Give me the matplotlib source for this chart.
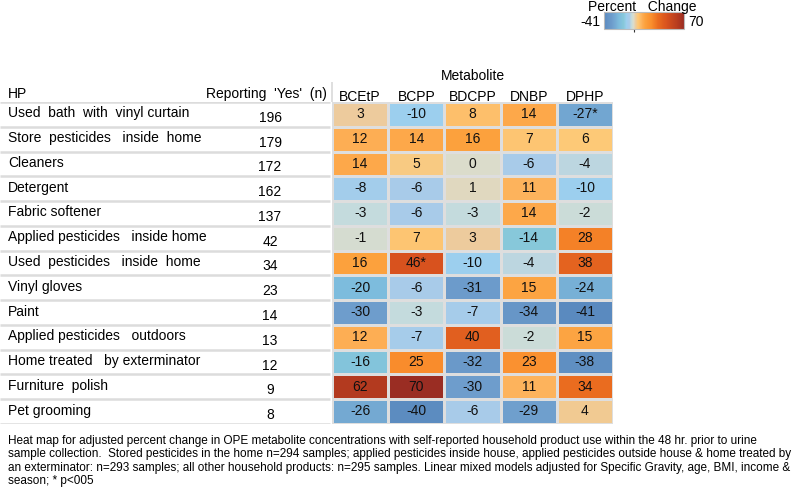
import matplotlib
matplotlib.use("Agg")
import matplotlib.pyplot as plt
import numpy as np
from matplotlib.colors import LinearSegmentedColormap, Normalize

plt.rcParams['font.family'] = ['Liberation Sans', 'DejaVu Sans']

products = ["Used  bath  with  vinyl curtain", "Store  pesticides   inside  home", "Cleaners",
            "Detergent", "Fabric softener", "Applied pesticides   inside home",
            "Used  pesticides   inside  home", "Vinyl gloves", "Paint",
            "Applied pesticides   outdoors", "Home treated   by exterminator",
            "Furniture  polish", "Pet grooming"]
n_yes = [196, 179, 172, 162, 137, 42, 34, 23, 14, 13, 12, 9, 8]
metabolites = ["BCEtP", "BCPP", "BDCPP", "DNBP", "DPHP"]
bcetp = [3, 12, 14, -8, -3, -1, 16, -20, -30, 12, -16, 62, -26]
bcpp = [-10, 14, 5, -6, -6, 7, 46, -6, -3, -7, 25, 70, -40]
bdcpp = [8, 16, 0, 1, -3, 3, -10, -31, -7, 40, -32, -30, -6]
dnbp = [14, 7, -6, 11, 14, -14, -4, 15, -34, -2, 23, 11, -29]
dphp = [-27, 6, -4, -10, -2, 28, 38, -24, -41, 15, -38, 34, 4]
significant = {(0, 4), (6, 1)}

vals = np.array([bcetp, bcpp, bdcpp, dnbp, dphp]).T
vmin, vmax = -41, 70

# colour anchors
anchors = [(-41, "#5a8abf"), (-30, "#6e9dcc"), (-20, "#7dbcdd"), (-14, "#87c8da"),
           (-10, "#9dcfee"), (-6, "#a9cbe9"), (-3, "#c5dcdc"), (0, "#dcdccb"),
           (3, "#edcb9c"), (6, "#fdc977"), (12, "#fdae55"), (16, "#fca13d"),
           (25, "#f98d2c"), (34, "#ea6c1f"), (46, "#d8521e"), (62, "#b43a1f"),
           (70, "#9a2d23")]
cmap = LinearSegmentedColormap.from_list(
    "opebl", [((v - vmin) / (vmax - vmin), c) for v, c in anchors])
norm = Normalize(vmin, vmax)

W, H = 800, 489
fig = plt.figure(figsize=(8, 4.89), dpi=100)

def fax(x0, y0, x1, y1):
    return fig.add_axes([x0 / W, 1 - y1 / H, (x1 - x0) / W, (y1 - y0) / H])

nrow = len(products)
fs = 10

# heat map
ax = fax(332, 103, 613, 425)
ax.pcolormesh(vals, cmap=cmap, norm=norm, edgecolors="#dedede", linewidth=1)
ax.set_xlim(0, 5)
ax.set_ylim(nrow, 0)
ax.axis("off")
for i in range(nrow):
    for j in range(5):
        s = str(vals[i, j]) + ("*" if (i, j) in significant else "")
        ax.text(j + 0.5, i + 0.45, s, ha="center", va="center", fontsize=fs, color="#111111")
for j, m in enumerate(metabolites):
    ax.text(j + 0.5, -0.26, m, ha="center", va="center", fontsize=fs)
ax.text(2.5, -1.08, "Metabolite", ha="center", va="center", fontsize=fs)
ax.vlines(0, -0.8, 0, color="#d9d9d9", lw=1.2, clip_on=False)

# left table
axl = fax(0, 103, 332, 425)
axl.set_xlim(0, 332)
axl.set_ylim(nrow, 0)
axl.axis("off")
axl.hlines(np.arange(0, nrow + 1), 0, 330, color="#dcdcdc", lw=1.8)
axl.text(8, -0.35, "HP", ha="left", va="center", fontsize=fs)
axl.text(327, -0.35, "Reporting  'Yes'  (n)", ha="right", va="center", fontsize=fs)
for i, (p, n) in enumerate(zip(products, n_yes)):
    axl.text(8, i + 0.42, p, ha="left", va="center", fontsize=fs)
    axl.text(270, i + 0.6, str(n), ha="center", va="center", fontsize=fs)

# colour legend
cax = fax(604, 13, 684, 30)
sm = plt.cm.ScalarMappable(norm=norm, cmap=cmap)
cb = fig.colorbar(sm, cax=cax, orientation="horizontal", ticks=[0])
cb.ax.tick_params(length=2, labelbottom=False, color="#333333", width=0.8)
cb.outline.set_edgecolor("#bbbbbb")
fig.text(600 / W, 1 - 22 / H, "-41", ha="right", va="center", fontsize=fs)
fig.text(688 / W, 1 - 22 / H, "70", ha="left", va="center", fontsize=fs)
fig.text(588 / W, 1 - 7 / H, "Percent   Change", ha="left", va="center", fontsize=fs)

caption = ("Heat map for adjusted percent change in OPE metabolite concentrations with self-reported household product use within the 48 hr. prior to urine\n"
           "sample collection.  Stored pesticides in the home n=294 samples; applied pesticides inside house, applied pesticides outside house & home treated by\n"
           "an exterminator: n=293 samples; all other household products: n=295 samples. Linear mixed models adjusted for Specific Gravity, age, BMI, income &\n"
           "season; * p<005")
fig.text(8 / W, 1 - 435 / H, caption, ha="left", va="top", fontsize=8.5, linespacing=1.16)

fig.savefig("out.png", dpi=100)
